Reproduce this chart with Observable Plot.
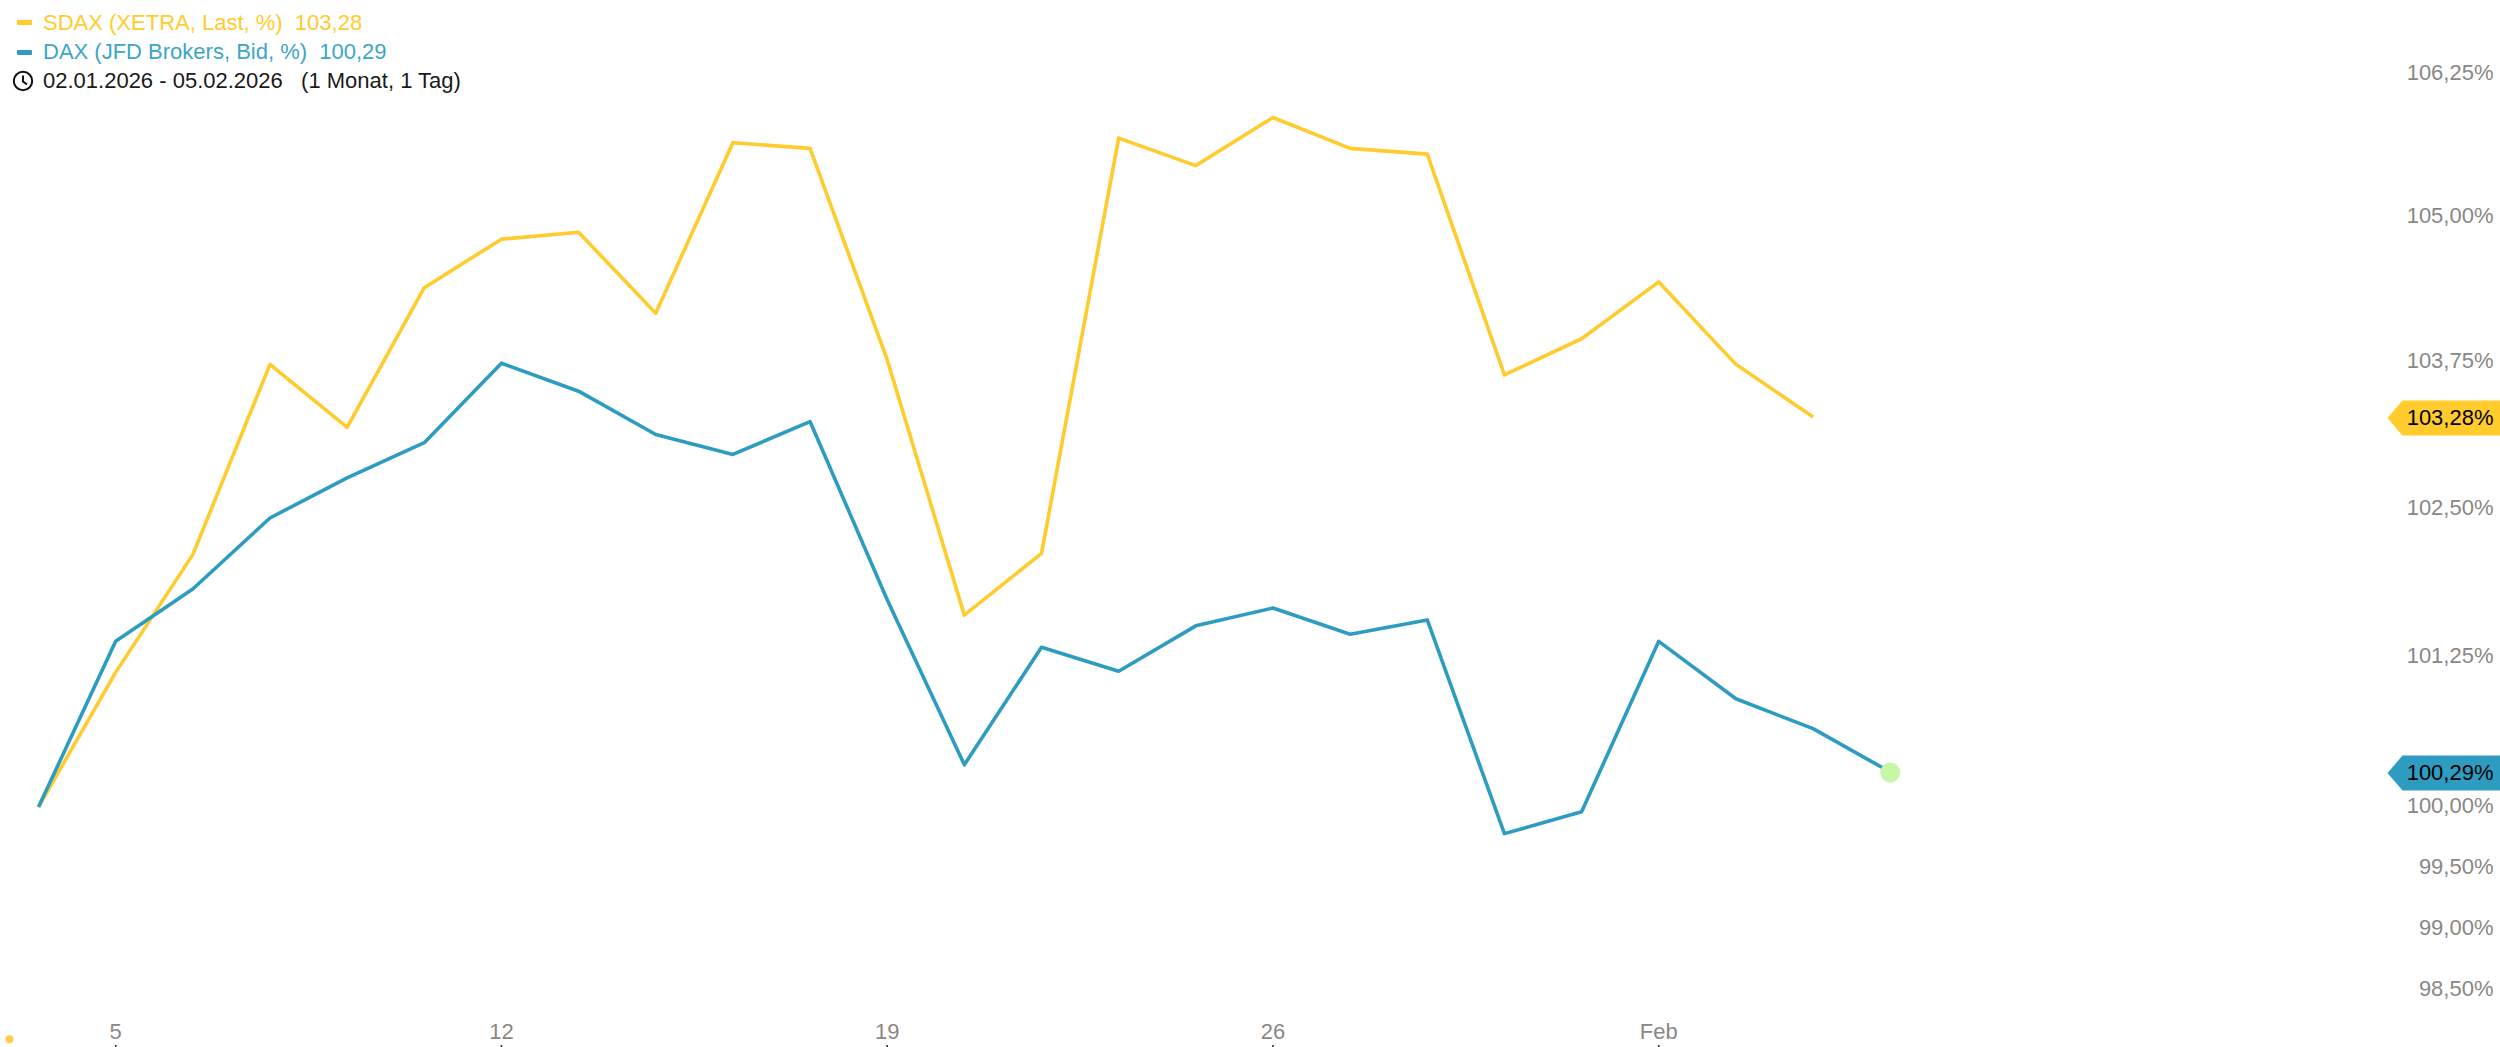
<!DOCTYPE html>
<html lang="de">
<head>
<meta charset="utf-8">
<title>SDAX und DAX</title>
<style>
  html, body { margin: 0; padding: 0; background: #fff; overflow: hidden; }
  #wrap { position: relative; width: 2500px; height: 1047px; font-family: "Liberation Sans", Arial, sans-serif; }
  #legend { position: absolute; left: 0; top: 0; font-size: 22px; white-space: pre; }
  #legend .row { position: absolute; left: 43px; height: 30px; line-height: 30px; }
  #legend .sw { position: absolute; left: 17px; width: 15px; height: 5px; border-radius: 1px; }
  #legend svg { position: absolute; left: 12px; top: 70px; }
</style>
<script src="https://cdn.jsdelivr.net/npm/d3@7"></script>
<script src="https://cdn.jsdelivr.net/npm/@observablehq/plot@0.6"></script>
</head>
<body>
<div id="wrap"></div>
<script>
const dates = ["02.01","05.01","06.01","07.01","08.01","09.01","12.01","13.01","14.01","15.01","16.01","19.01","20.01","21.01","22.01","23.01","26.01","27.01","28.01","29.01","30.01","02.02","03.02","04.02","05.02"];
const sdaxValues = [100,101.12,102.11,103.73,103.19,104.39,104.81,104.87,104.17,105.65,105.60,103.77,101.60,102.12,105.69,105.45,105.87,105.60,105.55,103.64,103.95,104.44,103.73,103.28];
const daxValues = [100,101.38,101.82,102.42,102.76,103.06,103.74,103.50,103.13,102.96,103.24,101.73,100.35,101.33,101.13,101.51,101.66,101.44,101.56,99.78,99.96,101.38,100.90,100.65,100.29];
const xTickDates = ["05.01","12.01","19.01","26.01","02.02"];
const xTickLabels = ["5","12","19","26","Feb"];
const yTicks = [98.5,99,99.5,100,101.25,102.5,103.75,105,106.25];
const lastValues = [103.28,100.29];
const lastLabels = ["103,28%","100,29%"];

const YELLOW = "#ffcb2d";
const BLUE = "#2e9cc1";
const GREY = "#8a8785";
const fmt = v => v.toFixed(2).replace(".", ",");

const tag = {
  draw(ctx) {
    ctx.moveTo(-113, 0);
    ctx.lineTo(-98, -17.5);
    ctx.lineTo(0, -17.5);
    ctx.lineTo(0, 17.5);
    ctx.lineTo(-98, 17.5);
    ctx.closePath();
  }
};

const xIndex = dates.map((d, i) => i);
const xTicks = xTickDates.map(d => dates.indexOf(d));

const chart = Plot.plot({
  width: 2500,
  height: 1047,
  margin: 0,
  style: { fontFamily: '"Liberation Sans", Arial, sans-serif', background: "#fff" },
  x: { type: "linear", domain: [0, 24], range: [38, 1889.7] },
  y: { type: "log", domain: [98.03, 106.9], range: [1047, 0] },
  marks: [
    Plot.axisY(yTicks, {
      anchor: "right", tickSize: 0, tickPadding: -7, textAnchor: "end", dy: -1,
      tickFormat: v => fmt(v) + "%", fontSize: 22, fill: GREY, label: null
    }),
    Plot.axisX(xTicks, {
      anchor: "bottom", tickSize: 0, tickPadding: -24,
      tickFormat: i => xTickLabels[xTicks.indexOf(i)], fontSize: 22, fill: GREY, label: null
    }),
    Plot.ruleX(xTicks, { insetTop: 1045, stroke: "#222", strokeWidth: 1.5 }),
    Plot.line(sdaxValues, { x: (d, i) => xIndex[i], y: d => d, stroke: YELLOW, strokeWidth: 3.6, strokeLinecap: "butt" }),
    Plot.line(daxValues, { x: (d, i) => xIndex[i], y: d => d, stroke: BLUE, strokeWidth: 3.6, strokeLinecap: "butt" }),
    Plot.dot([daxValues[24]], { x: () => 24, y: d => d, r: 10, fill: "#c6f7a6", dy: 0.5 }),
    Plot.dot(lastValues, { y: d => d, frameAnchor: "right", symbol: tag, fill: (d, i) => [YELLOW, BLUE][i], dy: 1 }),
    Plot.text(lastValues, {
      y: d => d, frameAnchor: "right", dx: -7, dy: 1, textAnchor: "end",
      text: (d, i) => lastLabels[i], fontSize: 22, fill: "#000"
    }),
    Plot.dot([0], { frameAnchor: "bottom-left", dx: 9, dy: -8.3, r: 4, fill: "#ffcb4d" })
  ]
});

const wrap = document.getElementById("wrap");
wrap.appendChild(chart);

const legend = document.createElement("div");
legend.id = "legend";
legend.innerHTML = `
  <div class="sw" style="top:20px;background:${YELLOW}"></div>
  <div class="row" style="top:8px;color:${YELLOW}">SDAX (XETRA, Last, %)  ${fmt(sdaxValues[23])}</div>
  <div class="sw" style="top:49.5px;background:${BLUE}"></div>
  <div class="row" style="top:37px;color:#3ca6c8">DAX (JFD Brokers, Bid, %)  ${fmt(daxValues[24])}</div>
  <svg width="22" height="22" viewBox="0 0 22 22"><circle cx="11" cy="11" r="9.2" fill="none" stroke="#111" stroke-width="2"/><path d="M11 5.5V11.5L15 14.5" fill="none" stroke="#111" stroke-width="2"/></svg>
  <div class="row" style="top:66px;color:#1a1a1a">02.01.2026 - 05.02.2026   (1 Monat, 1 Tag)</div>`;
wrap.appendChild(legend);
</script>
</body>
</html>
